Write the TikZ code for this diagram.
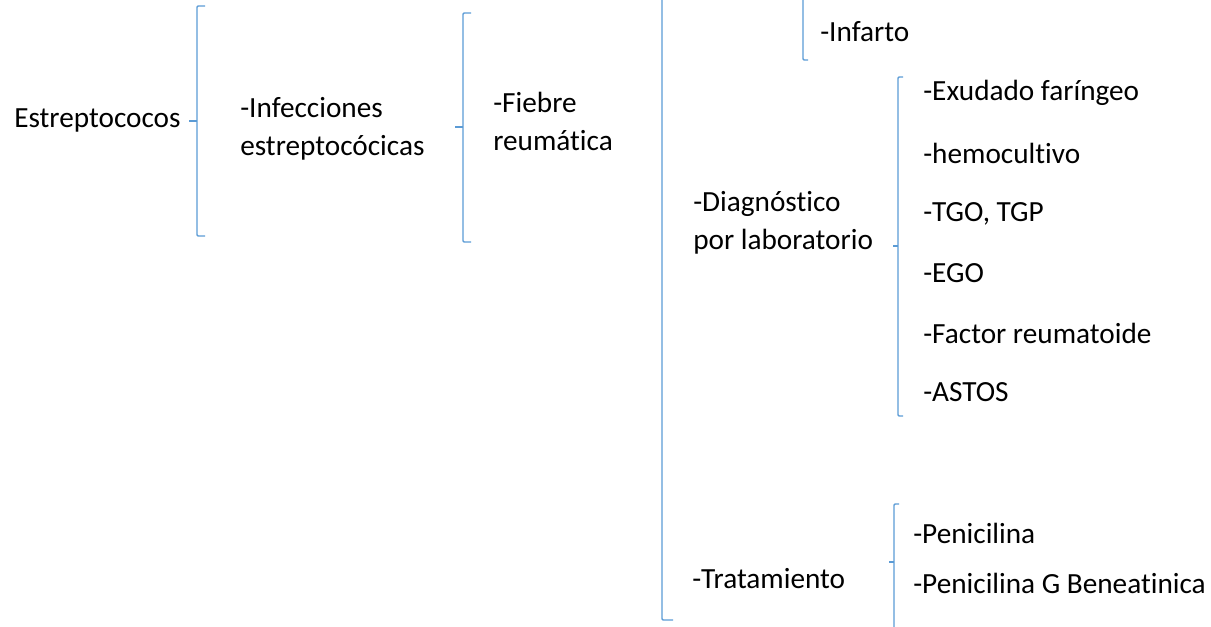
\documentclass[tikz,border=0pt]{standalone}
\usepackage{fontspec}
\setmainfont{Carlito}[Ligatures=NoCommon]
\definecolor{wordblue}{RGB}{91,155,213}
\tikzset{
  concept/.style = {anchor=west, inner sep=0pt, align=left,
                    font=\fontsize{20.8}{27}\selectfont},
  item/.style    = {concept},
  bracket/.style = {draw=wordblue, line width=1pt, rounded corners=0.8pt}
}

\begin{document}
\begin{tikzpicture}[x=0.025cm, y=-0.025cm]
  \useasboundingbox (0,0) rectangle (1211,626);
  % first levels
  \node [concept] (estrep) at (14,120)   {Estreptococos};
  \node [concept] (infec)  at (240,129)  {-Infecciones\\estreptocócicas};
  \node [concept] (fiebre) at (493,121)  {-Fiebre\\reumática};
  % signs, diagnosis and treatment
  \node [concept] (infarto) at (820,32)  {-Infarto};
  \node [concept] (diag)    at (693,223) {-Diagnóstico\\por laboratorio};
  \node [concept] (trat)    at (692,579) {-Tratamiento};
  % laboratory
  \node [item] (exud)   at (923,93)  {-Exudado faríngeo};
  \node [item] (hemo)   at (923,153) {-hemocultivo};
  \node [item] (tgo)    at (923,214) {-TGO, TGP};
  \node [item] (ego)    at (923,273) {-EGO};
  \node [item] (factor) at (923,333) {-Factor reumatoide};
  \node [item] (astos)  at (923,392) {-ASTOS};
  % treatment
  \node [item] (pen)    at (913,533) {-Penicilina};
  \node [item] (peng)   at (913,583) {-Penicilina G Beneatinica};

  % brackets
  \draw [bracket] (205,6) -- (197,6) -- (197,236) -- (205,236);
  \draw [bracket] (197,121) -- (189,121);
  \draw [bracket] (471,13) -- (463,13) -- (463,242) -- (471,242);
  \draw [bracket] (463,127) -- (455,127);
  \draw [bracket] (662,-2) -- (662,620) -- (673,620);
  \draw [bracket] (803,-2) -- (803,60) -- (808,60);
  \draw [bracket] (903,77) -- (898,77) -- (898,416) -- (903,416);
  \draw [bracket] (898,246) -- (893,246);
  \draw [bracket] (899,504) -- (894,504) -- (894,628);
  \draw [bracket] (894,562) -- (889,562);
\end{tikzpicture}
\end{document}
